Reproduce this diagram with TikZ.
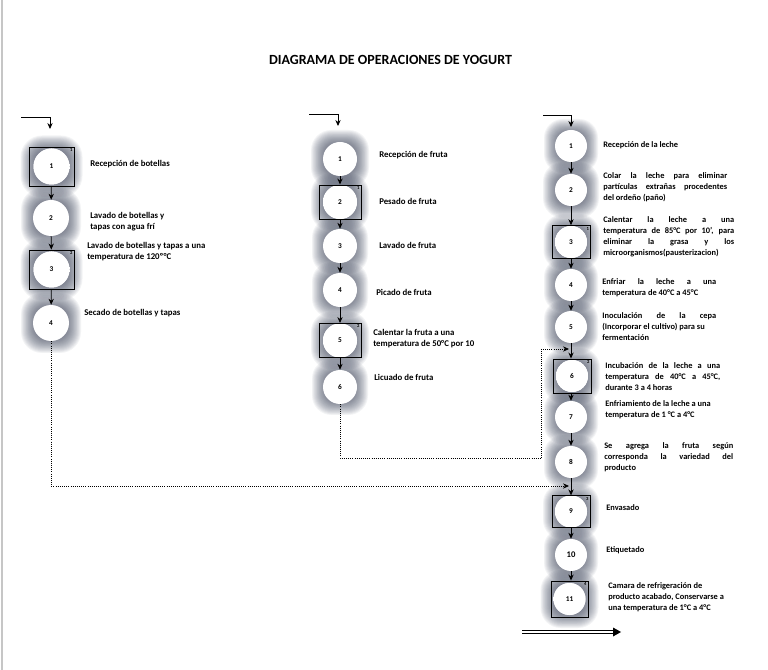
\documentclass[tikz,border=0pt]{standalone}
\usepackage{fontspec}
\setmainfont{Carlito}
\usetikzlibrary{arrows.meta}
\definecolor{glowc}{RGB}{62,70,92}
\pgfdeclareradialshading{inshade}{\pgfpoint{-5bp}{5bp}}{color(0bp)=(white); color(34bp)=(white); color(50bp)=(black!30); color(100bp)=(black!30)}
\newcommand\glowbox[3]{%
  \foreach \k in {0,...,15}{%
    \pgfmathsetmacro\hh{#3+1-\k*0.9}%
    \pgfmathsetmacro\rr{\hh*0.7*0.75}%
    \fill[glowc,opacity=0.06,rounded corners=\rr pt] (#1-\hh,#2-\hh) rectangle (#1+\hh,#2+\hh);}}
\newcommand\jl[2]{\makebox[#1][s]{#2}}
\tikzset{
  numf/.style={font=\bfseries\fontsize{5.5}{6}\selectfont},
  lc/.style={circle, fill=white, minimum size=27pt, inner sep=0pt, numf},
  mc/.style={circle, fill=white, minimum size=25.5pt, inner sep=0pt, numf},
  rc/.style={circle, fill=white, minimum size=24pt, inner sep=0pt, numf},
  shd/.style={shading=inshade},
  sbox/.style={draw=black, line width=0.7pt, inner sep=0pt, rectangle},
  lbox/.style={sbox, minimum width=33.75pt, minimum height=29.25pt},
  mbox/.style={sbox, minimum width=31.5pt, minimum height=25.5pt},
  rbox/.style={sbox, minimum width=28.5pt, minimum height=24.5pt},
  tinyn/.style={font=\bfseries\fontsize{3.5}{4}\selectfont, inner sep=0pt, anchor=north east, xshift=-1.2pt, yshift=-1.2pt},
  labl/.style={anchor=north west, inner sep=0pt, align=left, font=\bfseries\fontsize{6.6}{8.25}\selectfont},
  labr/.style={anchor=north west, inner sep=0pt, align=left, font=\bfseries\fontsize{6.3}{8.25}\selectfont},
  arr/.style={-{Stealth[length=4.5pt,width=4pt]}, line width=0.65pt},
  dotarr/.style={densely dotted, line width=0.6pt, -{Stealth[length=4.5pt,width=4pt]}},
}
\begin{document}
\begin{tikzpicture}[x=0.75pt,y=-0.75pt]
\useasboundingbox (0,0) rectangle (768,670);
\fill[white] (0,0) rectangle (768,670);
\draw[gray!45, line width=1.2pt] (2,0) -- (2,670);

\node[font=\bfseries\fontsize{10.5}{12}\selectfont] (title) at (390.5,60) {DIAGRAMA DE OPERACIONES DE YOGURT};

% glows
\glowbox{51.5}{166.5}{30}
\glowbox{51}{218}{29}
\glowbox{51.5}{269.5}{30}
\glowbox{51}{323}{29}
\glowbox{340}{159}{28}
\glowbox{340}{202}{28}
\glowbox{340}{246}{27}
\glowbox{340}{290}{27}
\glowbox{340}{340.5}{28}
\glowbox{340}{387}{27}
\glowbox{571}{146}{26}
\glowbox{571}{190}{27}
\glowbox{571.5}{242}{27}
\glowbox{571}{285}{26}
\glowbox{571}{327}{26}
\glowbox{572}{376}{27}
\glowbox{571}{417}{26}
\glowbox{571}{462}{26}
\glowbox{571}{511.5}{27}
\glowbox{571}{555}{26}
\glowbox{569.5}{599}{28}

% left column
\node[lc,shd] (L1) at (51.5,166.5) {1};
\node[lbox] (LB1) at (51.5,166.5) {};
\node[tinyn] at (LB1.north east) {1};
\node[lc] (L2) at (51,218) {2};
\node[lc,shd] (L3) at (51.5,269.5) {3};
\node[lbox] (LB3) at (51.5,269.5) {};
\node[tinyn] at (LB3.north east) {2};
\node[lc] (L4) at (51,323) {4};

% middle column
\node[mc] (M1) at (340,159) {1};
\node[mc,shd] (M2) at (340,202) {2};
\node[mbox] (MB2) at (340,202) {};
\node[tinyn] at (MB2.north east) {1};
\node[mc] (M3) at (340,246) {3};
\node[mc] (M4) at (340,290) {4};
\node[mc,shd] (M5) at (340,340.5) {5};
\node[mbox] (MB5) at (340,340.5) {};
\node[tinyn] at (MB5.north east) {2};
\node[mc] (M6) at (340,387) {6};

% right column
\node[rc] (R1) at (571,146) {1};
\node[rc] (R2) at (571,190) {2};
\node[rc,shd] (R3) at (571,242) {3};
\node[rbox] (RB3) at (571.5,242) {};
\node[tinyn] at (RB3.north east) {1};
\node[rc] (R4) at (571,285) {4};
\node[rc] (R5) at (571,327) {5};
\node[rc,shd] (R6) at (572,376) {6};
\node[rbox, minimum height=25.5pt] (RB6) at (572,376) {};
\node[tinyn] at (RB6.north east) {2};
\node[rc] (R7) at (571,417) {7};
\node[rc] (R8) at (571,462) {8};
\node[rc,shd] (R9) at (571,511.5) {9};
\node[rbox, minimum height=23.5pt] (RB9) at (571,511.5) {};
\node[tinyn] at (RB9.north east) {3};
\node[rc, font=\bfseries\fontsize{6.5}{7}\selectfont] (R10) at (571,555) {10};
\node[rc,shd] (R11) at (569.5,599) {11};
\node[rbox, minimum width=27.75pt, minimum height=27pt] (RB11) at (569.5,599) {};
\node[tinyn] at (RB11.north east) {4};

% input arrows
\coordinate (inLs) at (21,117);
\coordinate (inLe) at (50,129);
\draw[arr] (inLs) -| (inLe);
\coordinate (inMs) at (309,114);
\coordinate (inMe) at (338,126);
\draw[arr] (inMs) -| (inMe);
\coordinate (inRs) at (543,115);
\coordinate (inRe) at (571,127);
\draw[arr] (inRs) -| (inRe);

% flow arrows
\draw[arr] (LB1) -- (L2);
\draw[arr] (L2) -- (LB3);
\draw[arr] (LB3) -- (L4);
\draw[arr] (M1) -- (MB2);
\draw[arr] (MB2) -- (M3);
\draw[arr] (M3) -- (M4);
\draw[arr] (M4) -- (MB5);
\draw[arr] (MB5) -- (M6);
\draw[arr] (R1) -- (R2);
\draw[arr] (R2) -- (R2 |- RB3.north);
\draw[arr] (R3 |- RB3.south) -- (R4);
\draw[arr] (R4) -- (R5);
\draw[arr] (R5) -- (R5 |- RB6.north);
\draw[arr] (R5 |- RB6.south) -- (R7);
\draw[arr] (R7) -- (R8);
\draw[arr] (R8) -- (RB9);
\draw[arr] (RB9) -- (R10);
\draw[arr] (R10) -- (R10 |- RB11.north);

% dotted joins
\coordinate (jA) at (569,486);
\draw[dotarr] (L4.south) |- (jA);
\coordinate (mB) at (541,458);
\coordinate (jB) at (569,349);
\draw[densely dotted, line width=0.6pt] (M6.south) |- (mB);
\draw[dotarr] (mB) |- (jB);

% output double arrow
\coordinate (outS) at (522,632);
\coordinate (outE) at (621,632);
\draw[line width=0.6pt, double distance=2.2pt, shorten >=6pt] (outS) -- (outE);
\fill (outE) -- ++(-8,-4.5) -- ++(0,9) -- cycle;

% left labels
\node[labl] (tL1) at (90,160.5) {Recepción de botellas};
\node[labl] (tL2) at (90,212.5) {Lavado de botellas y\\tapas con agua frí};
\node[labl] (tL3) at (87,242) {Lavado de botellas y tapas a una\\temperatura de 120º°C};
\node[labl] (tL4) at (84,309) {Secado de botellas y tapas};

% middle labels
\node[labl] (tM1) at (379,151.5) {Recepción de fruta};
\node[labl] (tM2) at (379,198) {Pesado de fruta};
\node[labl] (tM3) at (379,242) {Lavado de fruta};
\node[labl] (tM4) at (376,289.5) {Picado de fruta};
\node[labl] (tM5) at (373,329.5) {Calentar la fruta a una\\temperatura de 50°C por 10};
\node[labl] (tM6) at (374,374.5) {Licuado de fruta};

% right labels
\node[labr] (tR1) at (603,141.5) {Recepción de la leche};
\node[labr] (tR2) at (603,172) {\jl{93pt}{Colar la leche para eliminar}\\\jl{93pt}{partículas extrañas procedentes}\\del ordeño (paño)};
\node[labr] (tR3) at (603,216) {\jl{98.25pt}{Calentar la leche a una}\\\jl{98.25pt}{temperatura de 85°C por 10', para}\\\jl{98.25pt}{eliminar la grasa y los}\\microorganismos(pausterizacion)};
\node[labr] (tR4) at (602,278.5) {\jl{85.5pt}{Enfriar la leche a una}\\temperatura de 40°C a 45°C};
\node[labr] (tR5) at (602,312) {\jl{85.5pt}{Inoculación de la cepa}\\(Incorporar el cultivo) para su\\fermentación};
\node[labr] (tR6) at (605,362) {\jl{86.25pt}{Incubación de la leche a una}\\\jl{86.25pt}{temperatura de 40°C a 45°C,}\\durante 3 a 4 horas};
\node[labr] (tR7) at (605,400.5) {Enfriamiento de la leche a una\\temperatura de 1 °C a 4°C};
\node[labr] (tR8) at (604,442) {\jl{96.75pt}{Se agrega la fruta según}\\\jl{96.75pt}{corresponda la variedad del}\\producto};
\node[labr] (tR9) at (606,504) {Envasado};
\node[labr] (tR10) at (606,546) {Etiquetado};
\node[labr] (tR11) at (608,582) {Camara de refrigeración de\\producto acabado, Conservarse a\\una temperatura de 1°C a 4°C};
\end{tikzpicture}
\end{document}
